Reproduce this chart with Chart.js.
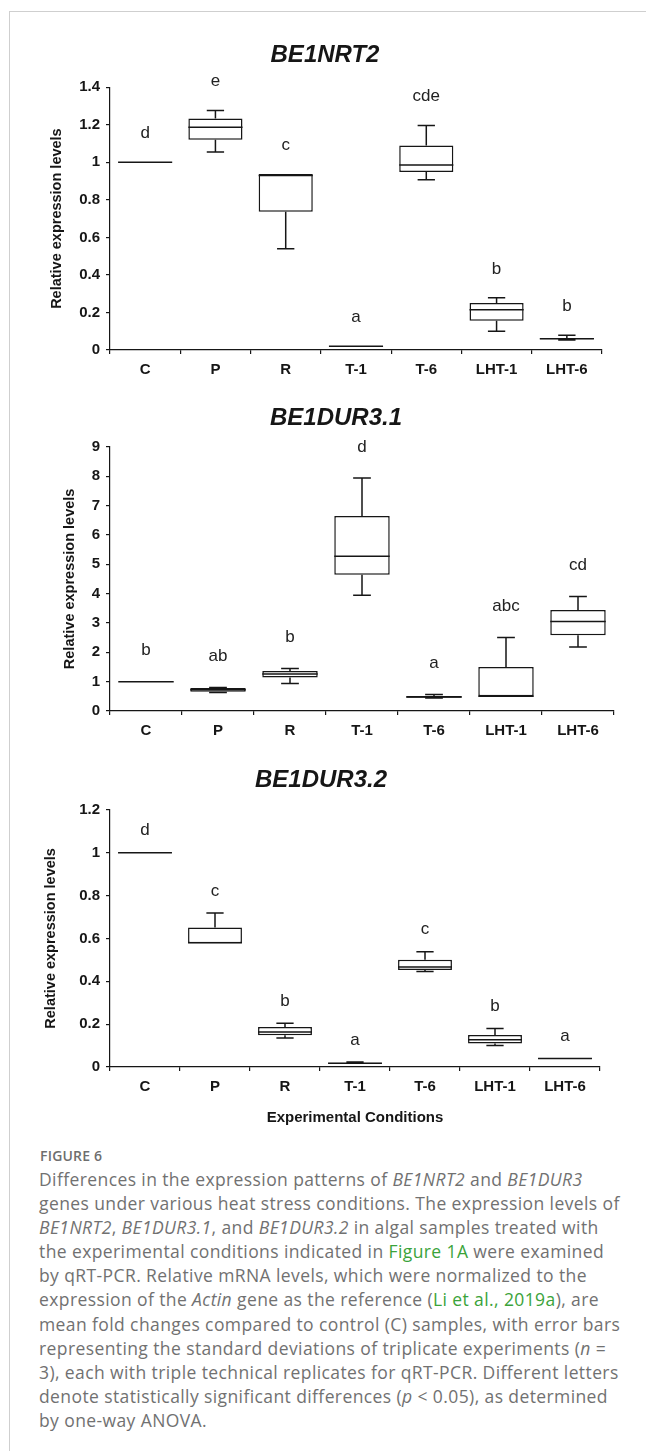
<!DOCTYPE html>
<html>
<head>
<meta charset="utf-8">
<script src="https://cdn.jsdelivr.net/npm/chart.js@4.4.1/dist/chart.umd.min.js"></script>
<style>
  body { margin: 0; background: #fff; width: 646px; height: 1451px; position: relative; overflow: hidden; }
  .frame { position: absolute; left: 9px; top: 11px; right: 0; bottom: 0; border-top: 1px solid #cfcfcf; border-left: 1px solid #cfcfcf; }
  canvas { position: absolute; left: 0; }
  .figlabel { position: absolute; left: 40px; top: 1146px; font: 600 14px "Open Sans", sans-serif; color: #6e6e6e; letter-spacing: 0.2px; }
  .caption { position: absolute; left: 39px; top: 1167px; font: 17.5px/24.1px "Open Sans", sans-serif; letter-spacing: 0.4px; color: #717171; white-space: nowrap; }
  .caption a { color: #3aa33a; text-decoration: none; }
</style>
</head>
<body>
<div class="frame"></div>
<canvas id="c1" width="646" height="370" style="top:20px"></canvas>
<canvas id="c2" width="646" height="361" style="top:390px"></canvas>
<canvas id="c3" width="646" height="387" style="top:750px"></canvas>

<div class="figlabel">FIGURE 6</div>
<div class="caption">
Differences in the expression patterns of <i>BE1NRT2</i> and <i>BE1DUR3</i><br>
genes under various heat stress conditions. The expression levels of<br>
<i>BE1NRT2</i>, <i>BE1DUR3.1</i>, and <i>BE1DUR3.2</i> in algal samples treated with<br>
the experimental conditions indicated in <a>Figure 1A</a> were examined<br>
by qRT-PCR. Relative mRNA levels, which were normalized to the<br>
expression of the <i>Actin</i> gene as the reference (<a>Li et al., 2019a</a>), are<br>
mean fold changes compared to control (C) samples, with error bars<br>
representing the standard deviations of triplicate experiments (<i>n</i> =<br>
3), each with triple technical replicates for qRT-PCR. Different letters<br>
denote statistically significant differences (<i>p</i> &lt; 0.05), as determined<br>
by one-way ANOVA.
</div>

<script>
const conditions = ['C', 'P', 'R', 'T-1', 'T-6', 'LHT-1', 'LHT-6'];

// BE1NRT2
const nrt2Min = [1.0, 1.055, 0.54, 0.02, 0.907, 0.10, 0.053];
const nrt2Q1 = [1.0, 1.12, 0.737, 0.02, 0.948, 0.156, 0.057];
const nrt2Med = [1.0, 1.186, 0.93, 0.02, 0.985, 0.214, 0.06];
const nrt2Q3 = [1.0, 1.233, 0.937, 0.02, 1.09, 0.25, 0.064];
const nrt2Max = [1.0, 1.276, 0.937, 0.02, 1.196, 0.278, 0.078];
const nrt2Letters = ['d', 'e', 'c', 'a', 'cde', 'b', 'b'];

// BE1DUR3.1
const dur31Min = [1.0, 0.63, 0.94, 3.94, 0.44, 0.5, 2.18];
const dur31Q1 = [1.0, 0.66, 1.14, 4.64, 0.45, 0.5, 2.58];
const dur31Med = [1.0, 0.72, 1.26, 5.27, 0.48, 0.5, 3.05];
const dur31Q3 = [1.0, 0.78, 1.36, 6.64, 0.51, 1.5, 3.44];
const dur31Max = [1.0, 0.80, 1.45, 7.94, 0.56, 2.5, 3.9];
const dur31Letters = ['b', 'ab', 'b', 'd', 'a', 'abc', 'cd'];

// BE1DUR3.2
const dur32Min = [1.0, 0.577, 0.135, 0.017, 0.445, 0.10, 0.038];
const dur32Q1 = [1.0, 0.577, 0.148, 0.017, 0.452, 0.11, 0.038];
const dur32Med = [1.0, 0.58, 0.163, 0.018, 0.466, 0.127, 0.04];
const dur32Q3 = [1.0, 0.651, 0.187, 0.02, 0.50, 0.149, 0.042];
const dur32Max = [1.0, 0.718, 0.204, 0.023, 0.538, 0.18, 0.042];
const dur32Letters = ['d', 'c', 'b', 'a', 'c', 'b', 'a'];

const FONT = '"Liberation Sans", Arial, sans-serif';
const INK = '#161616';

// whiskers, medians and letters on top of the floating bars
function boxPlugin(s, letterGap) {
  return {
    id: 'boxes',
    afterDatasetsDraw(chart) {
      const ctx = chart.ctx;
      const y = chart.scales.y;
      const py = v => y.getPixelForValue(v);
      ctx.save();
      ctx.strokeStyle = INK;
      ctx.lineWidth = 1.5;
      chart.getDatasetMeta(0).data.forEach((bar, i) => {
        const cx = bar.x, hw = bar.width / 2, cap = bar.width * 0.16;
        ctx.beginPath();
        ctx.moveTo(cx - hw, py(s.med[i])); ctx.lineTo(cx + hw, py(s.med[i]));
        if (s.max[i] > s.q3[i]) {
          ctx.moveTo(cx, py(s.q3[i])); ctx.lineTo(cx, py(s.max[i]));
          ctx.moveTo(cx - cap, py(s.max[i])); ctx.lineTo(cx + cap, py(s.max[i]));
        }
        if (s.min[i] < s.q1[i]) {
          ctx.moveTo(cx, py(s.q1[i])); ctx.lineTo(cx, py(s.min[i]));
          ctx.moveTo(cx - cap, py(s.min[i])); ctx.lineTo(cx + cap, py(s.min[i]));
        }
        ctx.stroke();
        ctx.fillStyle = '#222';
        ctx.font = '17px ' + FONT;
        ctx.textAlign = 'center';
        ctx.textBaseline = 'middle';
        ctx.fillText(s.letters[i], cx, py(s.max[i]) - letterGap);
      });
      ctx.restore();
    }
  };
}

function makeChart(id, cfg) {
  const s = cfg.stats;
  return new Chart(document.getElementById(id), {
    type: 'bar',
    data: {
      labels: conditions,
      datasets: [{
        data: s.q1.map((v, i) => [v, s.q3[i]]),
        backgroundColor: '#fff',
        borderColor: INK,
        borderWidth: 1.5,
        borderSkipped: false,
        barPercentage: 0.77,
        categoryPercentage: 1
      }]
    },
    options: {
      responsive: false,
      animation: false,
      layout: { padding: { left: cfg.padLeft, right: cfg.padRight, top: 0, bottom: 0 } },
      plugins: {
        legend: { display: false },
        tooltip: { enabled: false },
        title: {
          display: true,
          text: cfg.title,
          color: INK,
          font: { family: FONT, size: 24, weight: 'bold', style: 'italic' },
          padding: { top: cfg.titleTop, bottom: cfg.titleBottom }
        }
      },
      scales: {
        x: {
          afterFit: sc => { sc.height = cfg.xHeight; },
          grid: { display: true, drawOnChartArea: false, drawTicks: true, tickLength: 4, color: INK, lineWidth: 1.2 },
          border: { display: true, color: INK, width: 1.2 },
          ticks: { color: INK, padding: 7, font: { family: FONT, size: 15, weight: 'bold' } },
          title: {
            display: !!cfg.xTitle,
            text: cfg.xTitle || '',
            color: INK,
            font: { family: FONT, size: 15, weight: 'bold' },
            padding: { top: 0, bottom: 10 }
          }
        },
        y: {
          min: 0,
          max: cfg.yMax,
          afterFit: sc => { sc.width = cfg.yWidth; },
          grid: { display: true, drawOnChartArea: false, drawTicks: true, tickLength: 4, color: INK, lineWidth: 1.2 },
          border: { display: true, color: INK, width: 1.2 },
          ticks: {
            stepSize: cfg.yStep,
            color: INK,
            padding: 6,
            font: { family: FONT, size: 15, weight: 'bold' },
            callback: v => String(Number(v.toFixed(2)))
          },
          title: {
            display: true,
            text: 'Relative expression levels',
            color: INK,
            font: { family: FONT, size: 14.5, weight: 'bold' },
            padding: { top: cfg.yTitlePad, bottom: 0 }
          }
        }
      }
    },
    plugins: [boxPlugin(s, cfg.letterGap)]
  });
}

makeChart('c1', {
  title: 'BE1NRT2',
  stats: { min: nrt2Min, q1: nrt2Q1, med: nrt2Med, q3: nrt2Q3, max: nrt2Max, letters: nrt2Letters },
  yMax: 1.4, yStep: 0.2,
  padLeft: 48, padRight: 44, yWidth: 62, yTitlePad: 0,
  titleTop: 20.5, titleBottom: 17.9, xHeight: 40, letterGap: 29
});

makeChart('c2', {
  title: 'BE1DUR3.1',
  stats: { min: dur31Min, q1: dur31Q1, med: dur31Med, q3: dur31Q3, max: dur31Max, letters: dur31Letters },
  yMax: 9, yStep: 1,
  padLeft: 58, padRight: 32, yWidth: 52, yTitlePad: 3,
  titleTop: 13.5, titleBottom: 14.5, xHeight: 40, letterGap: 31
});

makeChart('c3', {
  title: 'BE1DUR3.2',
  stats: { min: dur32Min, q1: dur32Q1, med: dur32Med, q3: dur32Q3, max: dur32Max, letters: dur32Letters },
  yMax: 1.2, yStep: 0.2,
  padLeft: 42, padRight: 46, yWidth: 68, yTitlePad: 0,
  titleTop: 15.5, titleBottom: 15.5, xHeight: 70, letterGap: 22,
  xTitle: 'Experimental Conditions'
});
</script>
</body>
</html>
